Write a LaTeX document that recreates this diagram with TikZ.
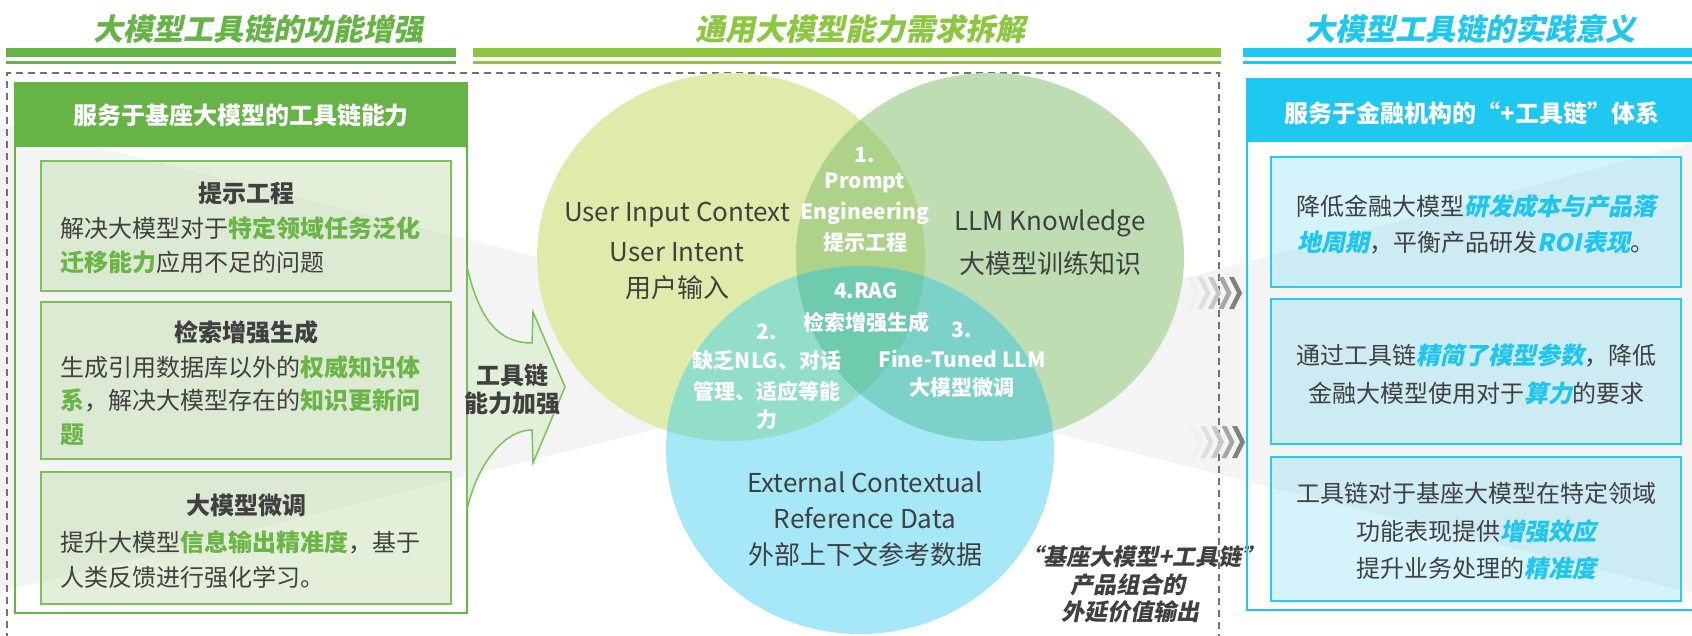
\documentclass[tikz,border=0pt]{standalone}
\usepackage{fontspec}
\setmainfont{Noto Sans CJK SC}
\newfontfamily\bifont{Noto Sans CJK SC}[FakeSlant=0.2]
\definecolor{gA}{HTML}{66B346}
\definecolor{gB}{HTML}{8DC63F}
\definecolor{cyA}{HTML}{1FC8F0}
\definecolor{tx}{HTML}{404040}
\definecolor{hlg}{HTML}{6AB545}
\definecolor{hlc}{HTML}{1EC5EE}
\definecolor{bgray}{HTML}{F4F4F4}
\definecolor{gboxfill}{HTML}{B9D9A2}
\definecolor{gboxline}{HTML}{7DC15B}
\definecolor{cboxfill}{HTML}{84DDF3}
\definecolor{cboxline}{HTML}{2BCBF0}
\definecolor{arrfill}{HTML}{E2F0D9}
\definecolor{vA}{HTML}{DFEBAA}
\definecolor{vB}{HTML}{BEDDB2}
\definecolor{vC}{HTML}{A6E8F8}
\definecolor{vAB}{HTML}{ADD38A}
\definecolor{vAC}{HTML}{92DEC8}
\definecolor{vBC}{HTML}{7CD1C9}
\definecolor{vABC}{HTML}{6FCBAE}
\newcommand\hlG[1]{{\color{hlg}\bfseries #1}}
\newcommand\hlC[1]{{\color{hlc}\bifont\bfseries #1}}
\tikzset{
  ttl/.style={inner sep=0pt, font=\fontsize{30}{30}\selectfont\bifont\bfseries},
  hdr/.style={inner sep=0pt, text=white, font=\fontsize{24}{24}\selectfont\bfseries},
  lt/.style={inner sep=0pt, text=tx, font=\fontsize{24}{24}\selectfont},
  ltb/.style={inner sep=0pt, text=tx, font=\fontsize{24}{24}\selectfont\bfseries},
  vt/.style={inner sep=0pt, text=tx, font=\fontsize{26}{26}\selectfont},
  lens/.style={inner sep=0pt, text=white, font=\fontsize{21}{21}\selectfont\bfseries},
  bt/.style={inner sep=0pt, text=tx, font=\fontsize{23}{23}\selectfont\bifont\bfseries},
  gbox/.style={fill=gboxfill, fill opacity=0.4, draw=gboxline, draw opacity=1, line width=1.5pt},
  cbox/.style={fill=cboxfill, fill opacity=0.35, draw=cboxline, draw opacity=1, line width=1.5pt},
  dashline/.style={draw=black!55, line width=1.5pt, dash pattern=on 7pt off 5pt},
}
\begin{document}
\begin{tikzpicture}[x=1pt,y=-1pt]
\useasboundingbox (0,0) rectangle (1692,635);
\fill[white] (0,0) rectangle (1692,635);
% background wedges
\fill[bgray] (0,123) -- (942,358) -- (0,592) -- cycle;
\fill[bgray] (824,375) -- (1692,143) -- (1692,593) -- cycle;
% titles
\node[ttl, text=gA] (t1) at (258,29) {大模型工具链的功能增强};
\node[ttl, text=gB] (t2) at (860,29) {通用大模型能力需求拆解};
\node[ttl, text=cyA] (t3) at (1470,29) {大模型工具链的实践意义};
% bars
\fill[gA] (6,48) rectangle (456,57);
\fill[gA] (6,60.5) rectangle (456,63.5);
\fill[gB] (473,48) rectangle (1221,57);
\fill[gB] (473,60.5) rectangle (1221,63.5);
\fill[cyA] (1243,48) rectangle (1692,57);
\fill[cyA] (1243,60.5) rectangle (1692,63.5);
% dashed frame
\draw[dashline] (7,640) -- (7,73) -- (1219,73) -- (1219,640);
% left box
\draw[gA, line width=2pt] (15,83) rectangle (467,613);
\fill[gA] (15,83) rectangle (467,147);
\node[hdr] (lh) at (241,115) {服务于基座大模型的工具链能力};
\filldraw[gbox] (41,161) rectangle (451,291);
\filldraw[gbox] (41,302) rectangle (451,459);
\filldraw[gbox] (41,472) rectangle (451,604);
\node[ltb] (b1t) at (246,193) {提示工程};
\node[lt, anchor=west] (b1a) at (60,228) {解决大模型对于\hlG{特定领域任务泛化}};
\node[lt, anchor=west] (b1b) at (60,262) {\hlG{迁移能力}应用不足的问题};
\node[ltb] (b2t) at (246,332) {检索增强生成};
\node[lt, anchor=west] (b2a) at (60,367) {生成引用数据库以外的\hlG{权威知识体}};
\node[lt, anchor=west] (b2b) at (60,400) {\hlG{系}，解决大模型存在的\hlG{知识更新问}};
\node[lt, anchor=west] (b2c) at (60,435) {\hlG{题}};
\node[ltb] (b3t) at (246,505) {大模型微调};
\node[lt, anchor=west] (b3a) at (60,542) {提升大模型\hlG{信息输出精准度}，基于};
\node[lt, anchor=west] (b3b) at (60,577) {人类反馈进行强化学习。};
% arrow
\filldraw[fill=arrfill, draw=gboxline, line width=1.5pt]
  (467,267) .. controls (480,322) and (500,343) .. (532,343)
  -- (533,312) -- (565,387) -- (533,463) -- (532,430)
  .. controls (502,430) and (476,468) .. (467,510) -- cycle;
\node[ltb] (ar1) at (512,375) {工具链};
\node[ltb] (ar2) at (512,403) {能力加强};
% Venn
\fill[vA] (731,257) ellipse [x radius=194pt, y radius=184pt];
\fill[vB] (990,257) ellipse [x radius=194pt, y radius=184pt];
\fill[vC] (860,450) ellipse [x radius=194pt, y radius=184pt];
\begin{scope}
  \clip (731,257) ellipse [x radius=194pt, y radius=184pt];
  \fill[vAB] (990,257) ellipse [x radius=194pt, y radius=184pt];
  \fill[vAC] (860,450) ellipse [x radius=194pt, y radius=184pt];
\end{scope}
\begin{scope}
  \clip (990,257) ellipse [x radius=194pt, y radius=184pt];
  \fill[vBC] (860,450) ellipse [x radius=194pt, y radius=184pt];
  \clip (731,257) ellipse [x radius=194pt, y radius=184pt];
  \fill[vABC] (860,450) ellipse [x radius=194pt, y radius=184pt];
\end{scope}
\node[vt] (u1) at (677,215) {User Input Context};
\node[vt] (u2) at (677,252) {User Intent};
\node[vt] (u3) at (677,288) {用户输入};
\node[vt] (k1) at (1050,223) {LLM Knowledge};
\node[vt] (k2) at (1050,264) {大模型训练知识};
\node[vt] (e1) at (865,482) {External Contextual};
\node[vt] (e2) at (865,518) {Reference Data};
\node[vt] (e3) at (865,555) {外部上下文参考数据};
\node[lens] (p1) at (865,155) {1.};
\node[lens] (p2) at (865,183) {Prompt};
\node[lens] (p3) at (865,213) {Engineering};
\node[lens] (p4) at (865,243) {提示工程};
\node[lens] (r1) at (866,291) {4.RAG};
\node[lens] (r2) at (866,322) {检索增强生成};
\node[lens] (n1) at (767,332) {2.};
\node[lens] (n2) at (767,361) {缺乏NLG、对话};
\node[lens] (n3) at (767,391) {管理、适应等能};
\node[lens] (n4) at (767,420) {力};
\node[lens] (f1) at (962,330) {3.};
\node[lens] (f2) at (962,359) {Fine-Tuned LLM};
\node[lens] (f3) at (962,388) {大模型微调};
% bottom italic
\node[bt] (q1) at (1142,557) {“基座大模型+工具链”};
\node[bt] (q2) at (1128,585) {产品组合的};
\node[bt] (q3) at (1130,612) {外延价值输出};
% chevrons
\foreach \i/\k in {0/6,1/13,2/22,3/35,4/50} {
  \fill[black!\k] ({1187+10.5*\i},277) -- ({1192+10.5*\i},277) -- ({1200+10.5*\i},293)
     -- ({1192+10.5*\i},309) -- ({1187+10.5*\i},309) -- ({1195+10.5*\i},293) -- cycle;
  \fill[black!\k] ({1190+10.5*\i},426) -- ({1195+10.5*\i},426) -- ({1203+10.5*\i},442)
     -- ({1195+10.5*\i},458) -- ({1190+10.5*\i},458) -- ({1198+10.5*\i},442) -- cycle;
}
% right box
\draw[cyA, line width=2pt] (1247,79) rectangle (1702,610);
\fill[cyA] (1247,79) rectangle (1702,142);
\node[hdr] (rh) at (1472,113) {服务于金融机构的“+工具链”体系};
\filldraw[cbox] (1271,157) rectangle (1681,287);
\filldraw[cbox] (1271,299) rectangle (1681,444);
\filldraw[cbox] (1271,457) rectangle (1681,601);
\node[lt] (c1a) at (1476,206) {降低金融大模型\hlC{研发成本与产品落}};
\node[lt] (c1b) at (1476,243) {\hlC{地周期}，平衡产品研发\hlC{ROI表现}。};
\node[lt] (c2a) at (1476,355) {通过工具链\hlC{精简了模型参数}，降低};
\node[lt] (c2b) at (1476,393) {金融大模型使用对于\hlC{算力}的要求};
\node[lt] (c3a) at (1476,493) {工具链对于基座大模型在特定领域};
\node[lt] (c3b) at (1476,531) {功能表现提供\hlC{增强效应}};
\node[lt] (c3c) at (1476,568) {提升业务处理的\hlC{精准度}};
\end{tikzpicture}
\end{document}
